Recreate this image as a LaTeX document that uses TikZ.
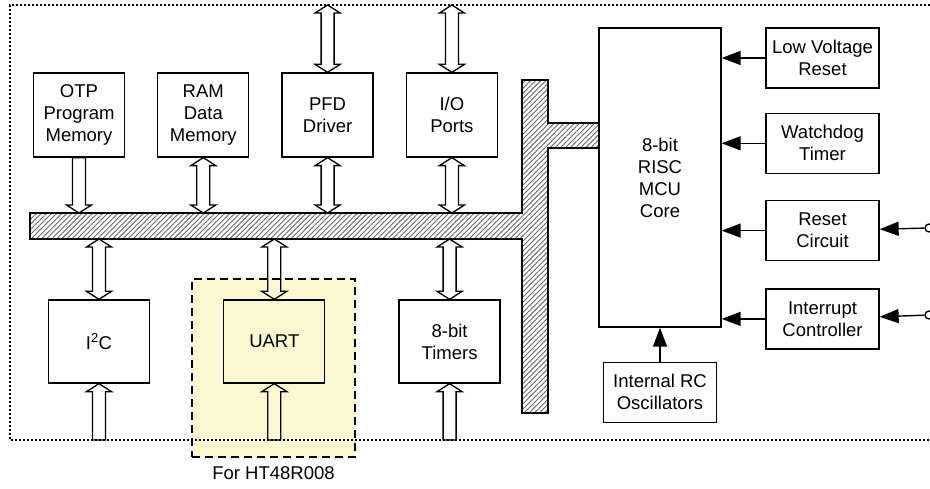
\documentclass[tikz,border=0pt]{standalone}
\usepackage{fontspec}
\setmainfont{Liberation Sans}
\usetikzlibrary{arrows.meta, positioning, calc, patterns.meta}

\definecolor{optfill}{RGB}{250,248,208}

% hollow bus arrow, heads at both ends
\newcommand{\duplex}[2]{%
  \draw [hollow] let \p1=#1, \p2=#2, \n1={ifthenelse(\y2>\y1,1,-1)} in
    (\x2,\y2) -- ({\x2+12.5pt},{\y2-(\n1)*8pt}) -- ({\x2+6.5pt},{\y2-(\n1)*8pt})
    -- ({\x1+6.5pt},{\y1+(\n1)*8pt}) -- ({\x1+12.5pt},{\y1+(\n1)*8pt}) -- (\x1,\y1)
    -- ({\x1-12.5pt},{\y1+(\n1)*8pt}) -- ({\x1-6.5pt},{\y1+(\n1)*8pt})
    -- ({\x2-6.5pt},{\y2-(\n1)*8pt}) -- ({\x2-12.5pt},{\y2-(\n1)*8pt}) -- cycle;}
% hollow bus arrow, head at the second end only
\newcommand{\simplex}[2]{%
  \draw [hollow] let \p1=#1, \p2=#2, \n1={ifthenelse(\y2>\y1,1,-1)} in
    (\x2,\y2) -- ({\x2+12.5pt},{\y2-(\n1)*8pt}) -- ({\x2+6.5pt},{\y2-(\n1)*8pt})
    -- ({\x1+6.5pt},\y1) -- ({\x1-6.5pt},\y1)
    -- ({\x2-6.5pt},{\y2-(\n1)*8pt}) -- ({\x2-12.5pt},{\y2-(\n1)*8pt}) -- cycle;}

\begin{document}
\begin{tikzpicture}[
    x=1pt, y=-1pt,
    font=\fontsize{18.5}{22}\selectfont,
    node distance = 32pt,
    unit/.style = {rectangle, draw, line width=1.3pt, minimum width=91pt, minimum height=84pt, align=center, inner sep=1pt},
    peri/.style = {unit, minimum width=101pt, minimum height=83pt},
    aux/.style = {unit, minimum width=113pt, minimum height=60pt},
    optzone/.style = {rectangle, draw, dash pattern=on 8pt off 5pt, line width=1.3pt, fill=optfill, minimum width=163pt, minimum height=178pt},
    frame/.style = {line width=1.3pt, dash pattern=on 2pt off 2pt},
    bus/.style = {line width=1.4pt, pattern={Lines[angle=45, distance=3.6pt, line width=0.9pt]}, pattern color=black!60},
    hollow/.style = {line width=1.3pt, line join=miter},
    sig/.style = {line width=1.4pt, -{Triangle[length=19pt, width=14pt]}},
    terminal/.style = {circle, draw, line width=1.3pt, minimum size=8pt, inner sep=0pt}
]
    \useasboundingbox (0,0) rectangle (930,489);

    % Optional block
    \node (opt) [optzone] at (273.5,368) {};
    \node (optnote) [below=5pt of opt] {For HT48R008};

    % Frame
    \coordinate (frametop) at (10,5);
    \coordinate (framebot) at (10,440);
    \draw [frame] (930,5) -- (frametop) -- (framebot) -- (930,440);

    % Bus
    \coordinate (bustop) at (30,213);
    \coordinate (busbot) at (30,239);
    \draw [bus] (bustop) -- (522,213) -- (522,80) -- (548,80) -- (548,123) -- (599,123)
        -- (599,148) -- (548,148) -- (548,413) -- (522,413) -- (522,239) -- (busbot) -- cycle;

    % Top row
    \node (otp) [unit] at (79,115) {OTP\\Program\\Memory};
    \node (ram) [unit, right=of otp] {RAM\\Data\\Memory};
    \node (pfd) [unit, right=of ram] {PFD\\Driver};
    \node (io) [unit, right=of pfd] {I/O\\Ports};

    % Bottom row
    \node (iic) [peri] at (99,341.5) {I\textsuperscript{2}C};
    \node (uart) [peri, right=73pt of iic] {UART};
    \node (tmr) [peri, right=73pt of uart] {8-bit\\Timers};

    % Core
    \node (mcu) [unit, minimum width=122pt, minimum height=299pt] at (660,177.5) {8-bit\\RISC\\MCU\\Core};
    \node (rc) [aux, below=34pt of mcu] {Internal RC\\Oscillators};
    \node (lvr) [aux] at (822.5,58) {Low Voltage\\Reset};
    \node (wdt) [aux, below=24pt of lvr] {Watchdog\\Timer};
    \node (rst) [aux, below=26pt of wdt] {Reset\\Circuit};
    \node (irq) [aux, below=27pt of rst] {Interrupt\\Controller};
    \node (rstpin) [terminal] at (929,228) {};
    \node (irqpin) [terminal] at (929,315) {};

    % Arrows
    \draw [sig] (lvr) -- (lvr -| mcu.east);
    \draw [sig] (wdt) -- (wdt -| mcu.east);
    \draw [sig] (rst) -- (rst -| mcu.east);
    \draw [sig] (irq) -- (irq -| mcu.east);
    \draw [sig] (rstpin) -- (rst);
    \draw [sig] (irqpin) -- (irq);
    \draw [sig] (rc) -- (mcu);

    \simplex{(otp.south)}{(otp.south |- bustop)}
    \duplex{(ram.south)}{(ram.south |- bustop)}
    \duplex{(pfd.south)}{(pfd.south |- bustop)}
    \duplex{(io.south)}{(io.south |- bustop)}
    \duplex{(pfd.north)}{(pfd.north |- frametop)}
    \duplex{(io.north)}{(io.north |- frametop)}
    \duplex{(iic.north)}{(iic.north |- busbot)}
    \duplex{(uart.north)}{(uart.north |- busbot)}
    \duplex{(tmr.north)}{(tmr.north |- busbot)}
    \simplex{(iic.south |- framebot)}{(iic.south)}
    \simplex{(uart.south |- framebot)}{(uart.south)}
    \simplex{(tmr.south |- framebot)}{(tmr.south)}

\end{tikzpicture}
\end{document}
